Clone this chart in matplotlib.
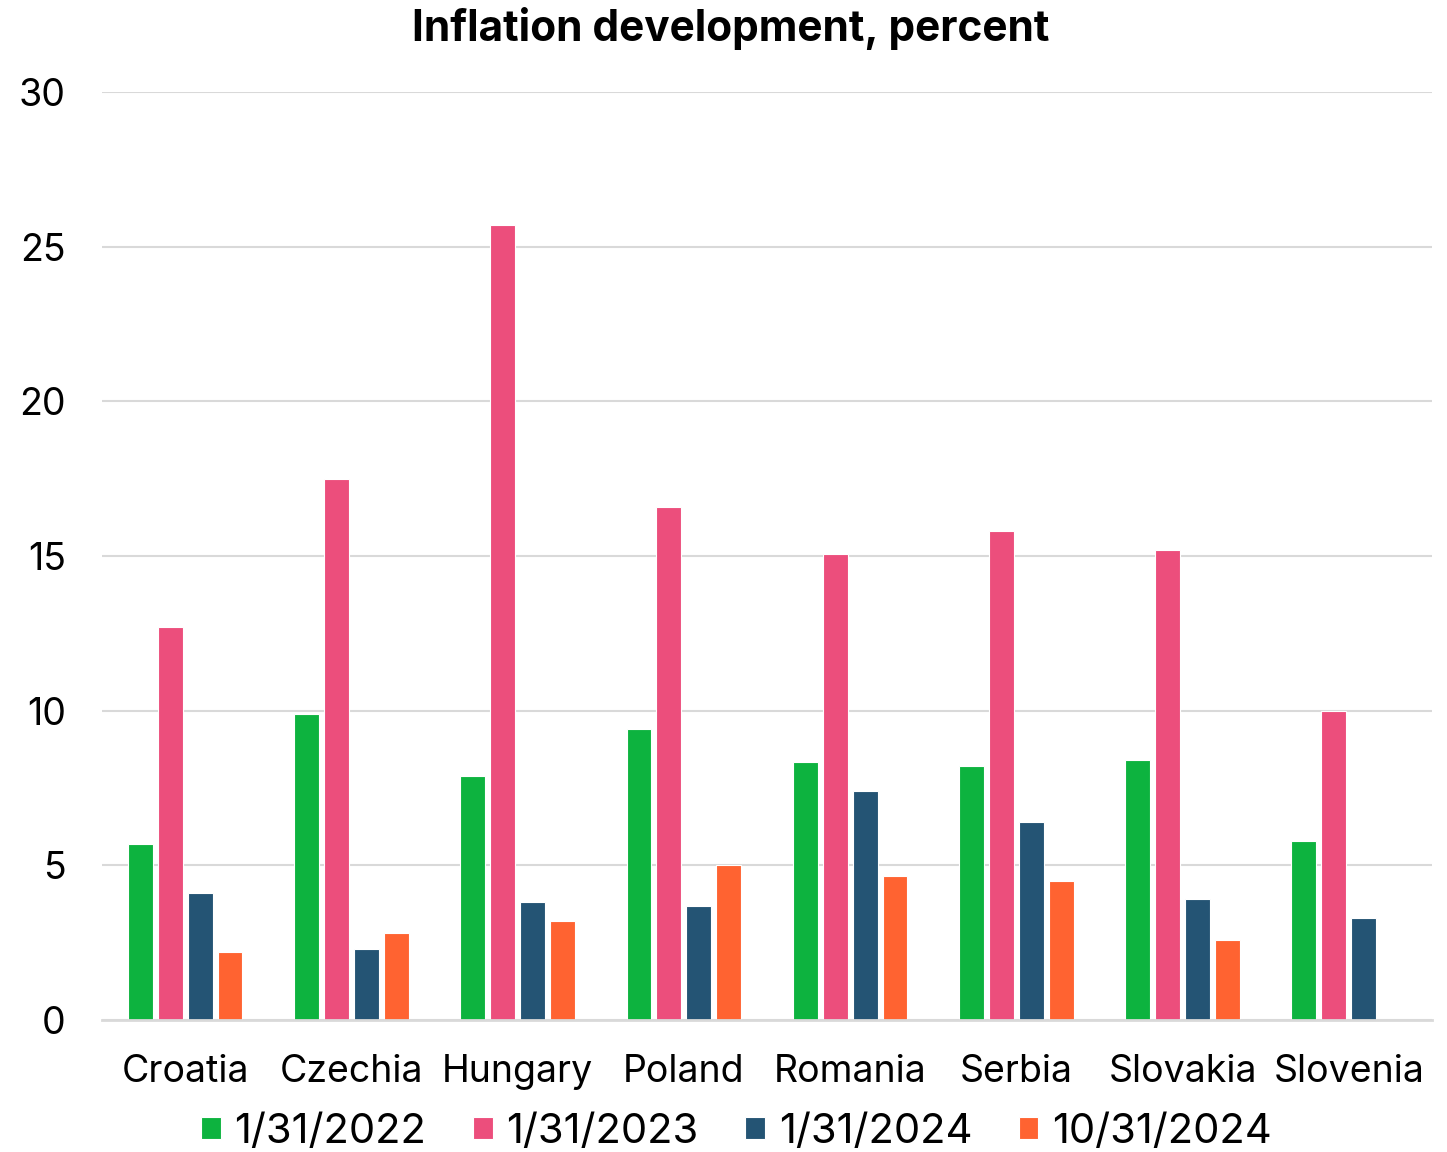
import numpy as np
import matplotlib.pyplot as plt

countries = ["Croatia", "Czechia", "Hungary", "Poland", "Romania", "Serbia", "Slovakia", "Slovenia"]
series_labels = ["1/31/2022", "1/31/2023", "1/31/2024", "10/31/2024"]
jan_2022 = [5.7, 9.9, 7.9, 9.4, 8.35, 8.2, 8.4, 5.8]
jan_2023 = [12.7, 17.5, 25.7, 16.6, 15.05, 15.8, 15.2, 10.0]
jan_2024 = [4.1, 2.3, 3.8, 3.7, 7.4, 6.4, 3.9, 3.3]
oct_2024 = [2.2, 2.8, 3.2, 5.0, 4.65, 4.5, 2.6, np.nan]
yticks = [0, 5, 10, 15, 20, 25, 30]

colors = ["#0db33f", "#ec4e7c", "#245474", "#ff6331"]

plt.rcParams["font.family"] = ["Inter", "DejaVu Sans"]

fig = plt.figure(figsize=(14.47, 11.52), dpi=100)
ax = fig.add_axes([0.0705, 0.1146, 0.9191, 0.8055])

x = np.arange(len(countries))
pitch = 0.18
width = 0.15
for i, (vals, lab, c) in enumerate(zip([jan_2022, jan_2023, jan_2024, oct_2024], series_labels, colors)):
    ax.bar(x + (i - 1.5) * pitch, vals, width=width, color=c, label=lab,
           edgecolor="white", linewidth=0.8, zorder=3)

ax.set_xlim(-0.5, len(countries) - 0.5)
ax.set_ylim(0, 30)
ax.set_yticks(yticks)
ax.set_yticklabels([str(t) for t in yticks])
ax.set_xticks(x)
ax.set_xticklabels(countries)
ax.tick_params(axis="both", length=0, labelsize=27)
ax.tick_params(axis="y", pad=26)
ax.tick_params(axis="x", pad=24.5)

ax.grid(axis="y", color="#d9d9d9", linewidth=1.5, zorder=0)
for s in ["top", "right", "left"]:
    ax.spines[s].set_visible(False)
ax.spines["bottom"].set_color("#d9d9d9")
ax.spines["bottom"].set_linewidth(2)
ax.spines["bottom"].set_zorder(4)

fig.text(0.505, 0.975, "Inflation development, percent", ha="center", va="center",
         fontsize=30.5, fontweight="bold")

handles, labels = ax.get_legend_handles_labels()
fig.legend(handles, labels, loc="center", bbox_to_anchor=(0.509, 0.0175), ncol=4,
           frameon=False, fontsize=30, handlelength=0.47, handleheight=0.47,
           handletextpad=0.33, columnspacing=1.12, borderpad=0.1)

fig.savefig("out.png", dpi=100)
